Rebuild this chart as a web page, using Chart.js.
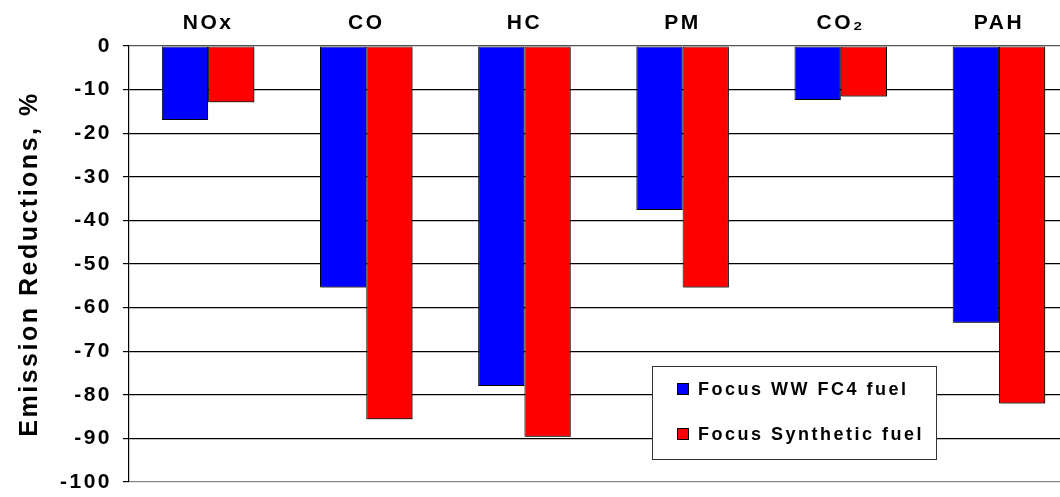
<!DOCTYPE html>
<html>
<head>
<meta charset="utf-8">
<script src="https://cdn.jsdelivr.net/npm/chart.js@4"></script>
<style>
  html, body { margin: 0; padding: 0; background: #fff; overflow: hidden; }
  #wrap { width: 1080px; height: 497px; position: relative; }
</style>
</head>
<body>
<div id="wrap"><canvas id="emissionsChart"></canvas></div>
<script>
// categories and values
const categories = ["NOx", "CO", "HC", "PM", "CO\u2082", "PAH"];
const ww4Values = [-17.0, -55.4, -78.0, -37.6, -12.4, -63.5];
const synthValues = [-12.9, -85.6, -89.6, -55.4, -11.6, -82.0];
const seriesNames = ["Focus WW FC4 fuel", "Focus Synthetic fuel"];
const yTicks = [0, -10, -20, -30, -40, -50, -60, -70, -80, -90, -100];

const FONT = "'Liberation Sans', Arial, sans-serif";
const SPACING = "2.5px";

// spaced-out lettering like the original
const spacingPlugin = {
    id: "spacing",
    beforeLayout(chart) { chart.ctx.letterSpacing = SPACING; },
    beforeDraw(chart) { chart.ctx.letterSpacing = SPACING; }
};

// soft drop shadow behind bars
const shadowPlugin = {
    id: "barShadow",
    beforeDatasetsDraw(chart) {
        const ctx = chart.ctx;
        ctx.save();
        ctx.shadowColor = "rgba(0,0,0,0.45)";
        ctx.shadowOffsetX = 1.5;
        ctx.shadowOffsetY = 1.5;
        ctx.shadowBlur = 0;
    },
    afterDatasetsDraw(chart) { chart.ctx.restore(); }
};

// boxed legend inside the plot, lower right
const boxLegend = {
    id: "boxLegend",
    afterDatasetsDraw(chart) {
        const ctx = chart.ctx;
        const x = 652, y = 366, w = 284, h = 93;
        ctx.save();
        ctx.fillStyle = "#fff";
        ctx.fillRect(x, y, w, h);
        ctx.strokeStyle = "#333";
        ctx.lineWidth = 1;
        ctx.strokeRect(x + 0.5, y + 0.5, w, h);
        ctx.font = "bold 18px " + FONT;
        ctx.letterSpacing = SPACING;
        ctx.textBaseline = "middle";
        chart.data.datasets.forEach((ds, i) => {
            const cy = y + 23 + i * 45;
            ctx.fillStyle = ds.backgroundColor;
            ctx.fillRect(x + 25, cy - 6, 11, 11);
            ctx.strokeStyle = "#000";
            ctx.strokeRect(x + 25.5, cy - 5.5, 11, 11);
            ctx.fillStyle = "#000";
            ctx.fillText(ds.label, x + 46, cy + 1);
        });
        ctx.restore();
    }
};

new Chart(document.getElementById("emissionsChart"), {
    type: "bar",
    data: {
        labels: categories,
        datasets: [
            {
                label: seriesNames[0],
                data: ww4Values,
                backgroundColor: "#0000FF",
                borderColor: "#000",
                borderWidth: 1,
                borderSkipped: false
            },
            {
                label: seriesNames[1],
                data: synthValues,
                backgroundColor: "#FF0000",
                borderColor: "#000",
                borderWidth: 1,
                borderSkipped: false
            }
        ]
    },
    options: {
        responsive: true,
        maintainAspectRatio: false,
        animation: false,
        datasets: { bar: { barPercentage: 1, categoryPercentage: 0.585 } },
        layout: { padding: { left: 0, right: 2, top: 0, bottom: 15 } },
        plugins: {
            legend: { display: false },
            tooltip: { enabled: false }
        },
        scales: {
            x: {
                position: "top",
                grid: { display: false, drawTicks: false },
                border: { display: false },
                ticks: {
                    color: "#000",
                    padding: 10,
                    font: { family: FONT, size: 21, weight: "bold" }
                },
                afterFit(scale) { scale.height = 46; }
            },
            y: {
                min: -100,
                max: 0,
                afterBuildTicks(scale) { scale.ticks = yTicks.map(v => ({ value: v })); },
                grid: {
                    color: ctx => ctx.tick && ctx.tick.value === -100 ? "#888" : (ctx.tick && ctx.tick.value === 0 ? "#555" : "#000"),
                    lineWidth: 1.2,
                    tickLength: 6,
                    tickColor: "#000"
                },
                border: { display: true, color: "#000", width: 1.2 },
                ticks: {
                    color: "#000",
                    padding: 11,
                    font: { family: FONT, size: 21, weight: "bold" }
                },
                title: {
                    display: true,
                    text: "Emission Reductions, %",
                    color: "#000",
                    padding: { top: 15, bottom: 0 },
                    font: { family: FONT, size: 25, weight: "bold" }
                },
                afterFit(scale) {
                    scale.width = 129;
                    scale.paddingTop = 0;
                    scale.paddingBottom = 0;
                }
            }
        }
    },
    plugins: [spacingPlugin, shadowPlugin, boxLegend]
});
</script>
</body>
</html>
